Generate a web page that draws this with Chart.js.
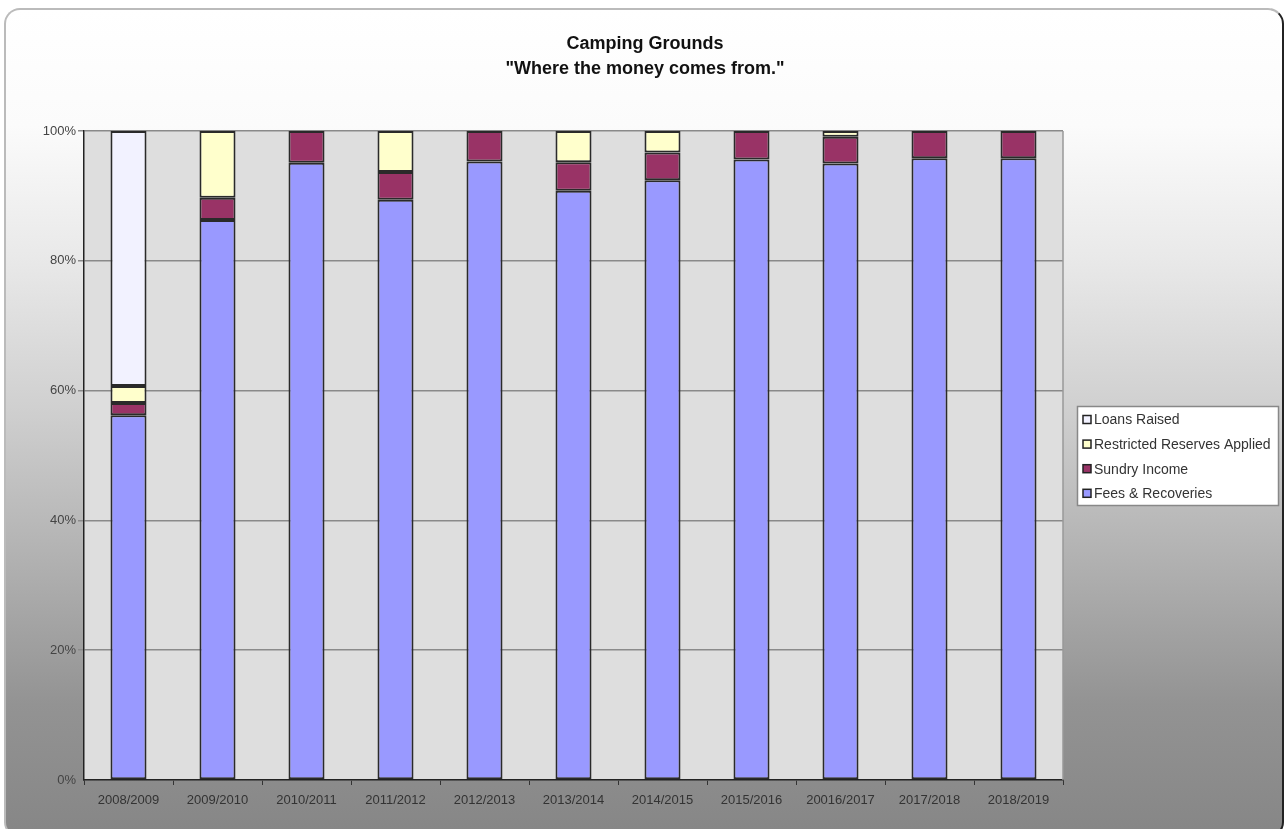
<!DOCTYPE html>
<html>
<head>
<meta charset="utf-8">
<script src="https://cdn.jsdelivr.net/npm/chart.js@4"></script>
<style>
    html, body { margin: 0; padding: 0; background: #fff; }
    #frame {
        position: absolute; left: 4px; top: 8px; width: 1276px; height: 826px;
        border: 2px solid; border-color: #bbb #222 #222 #bbb;
        border-radius: 16px;
        background: linear-gradient(to bottom, #fff 0%, #fbfbfb 14%, #e9e9e9 30%, #d0d0d0 48%, #b2b2b2 66%, #939393 84%, #868686 100%);
    }
    #wrap { position: absolute; left: 0; top: 0; width: 1286px; height: 829px; }
</style>
</head>
<body>
<div id="frame"></div>
<div id="wrap"><canvas id="chart" width="1286" height="829"></canvas></div>
<script>
// Données (en % du total de chaque année)
const years = ["2008/2009", "2009/2010", "2010/2011", "2011/2012", "2012/2013", "2013/2014",
               "2014/2015", "2015/2016", "20016/2017", "2017/2018", "2018/2019"];
const fees       = [56.2, 86.3, 95.1, 89.4, 95.3, 90.8, 92.4, 95.6, 95.0, 95.8, 95.8];
const sundry     = [1.9, 3.4, 4.9, 4.3, 4.7, 4.4, 4.3, 4.4, 4.1, 4.2, 4.2];
const restricted = [2.6, 10.3, 0, 6.3, 0, 4.8, 3.3, 0, 0.9, 0, 0];
const loans      = [39.3, 0, 0, 0, 0, 0, 0, 0, 0, 0, 0];
const yTicks = [0, 20, 40, 60, 80, 100];
const titleLines = ["Camping Grounds", "\"Where the money comes from.\""];

const FONT = "'Liberation Sans', Arial, sans-serif";

// fond gris de la zone de tracé + bordure droite
const plotBg = {
    id: "plotBg",
    beforeDraw(chart) {
        const { ctx, chartArea: a } = chart;
        ctx.save();
        ctx.fillStyle = "#dedede";
        ctx.fillRect(a.left, a.top, a.right - a.left, a.bottom - a.top);
        ctx.restore();
    },
    afterDraw(chart) {
        const { ctx, chartArea: a } = chart;
        ctx.save();
        ctx.strokeStyle = "#999";
        ctx.lineWidth = 1.5;
        ctx.beginPath();
        ctx.moveTo(a.right, a.top);
        ctx.lineTo(a.right, a.bottom);
        ctx.stroke();
        // titre centré sur toute la largeur
        ctx.fillStyle = "#111";
        ctx.font = "bold 18px " + FONT;
        ctx.textAlign = "center";
        ctx.textBaseline = "middle";
        titleLines.forEach((t, i) => ctx.fillText(t, 645, 44 + i * 25));
        ctx.restore();
    }
};

// légende encadrée à droite (ordre inversé comme dans Excel)
const boxLegend = {
    id: "boxLegend",
    afterDraw(chart) {
        const { ctx } = chart;
        const items = chart.data.datasets.slice().reverse();
        const x = 1077, y = 406, w = 201, h = 99;
        ctx.save();
        ctx.fillStyle = "#fff";
        ctx.fillRect(x, y, w, h);
        ctx.strokeStyle = "#888";
        ctx.lineWidth = 1.5;
        ctx.strokeRect(x + 0.5, y + 0.5, w, h);
        ctx.font = "14px " + FONT;
        ctx.textBaseline = "middle";
        items.forEach((ds, i) => {
            const cy = y + 13.5 + i * 24.6;
            ctx.fillStyle = ds.backgroundColor;
            ctx.fillRect(x + 6, cy - 4, 8, 8);
            ctx.strokeStyle = "#222";
            ctx.lineWidth = 1.5;
            ctx.strokeRect(x + 6, cy - 4, 8, 8);
            ctx.fillStyle = "#333";
            ctx.fillText(ds.label, x + 17, cy + 1);
        });
        ctx.restore();
    }
};

const mk = (label, data, color) => ({
    label, data,
    backgroundColor: color,
    borderColor: "#2a2a2a",
    borderWidth: 2,
    borderSkipped: false,
    barPercentage: 0.405,
    categoryPercentage: 1
});

new Chart(document.getElementById("chart"), {
    type: "bar",
    data: {
        labels: years,
        datasets: [
            mk("Fees & Recoveries", fees, "#9999ff"),
            mk("Sundry Income", sundry, "#993366"),
            mk("Restricted Reserves Applied", restricted, "#ffffcc"),
            mk("Loans Raised", loans, "#f2f2ff")
        ]
    },
    options: {
        responsive: false,
        animation: false,
        layout: { padding: { top: 131, right: 223, bottom: 0, left: 0 } },
        plugins: {
            legend: { display: false },
            tooltip: { enabled: false },
            title: { display: false }
        },
        scales: {
            x: {
                stacked: true,
                afterFit(scale) { scale.height = 49; },
                grid: { display: true, drawOnChartArea: false, offset: true, color: "#333", tickLength: 5 },
                border: { color: "#222", width: 1.5 },
                ticks: { color: "#333", font: { family: FONT, size: 13 }, padding: 8, maxRotation: 0 }
            },
            y: {
                stacked: true,
                min: 0, max: 100,
                afterFit(scale) { scale.width = 84; },
                afterBuildTicks(scale) { scale.ticks = yTicks.map(v => ({ value: v })); },
                grid: { color: "#8a8a8a", lineWidth: 1.5, tickLength: 6 },
                border: { color: "#222", width: 1.5 },
                ticks: { color: "#444", font: { family: FONT, size: 13 }, padding: 2, callback: v => v + "%" }
            }
        }
    },
    plugins: [plotBg, boxLegend]
});
</script>
</body>
</html>
